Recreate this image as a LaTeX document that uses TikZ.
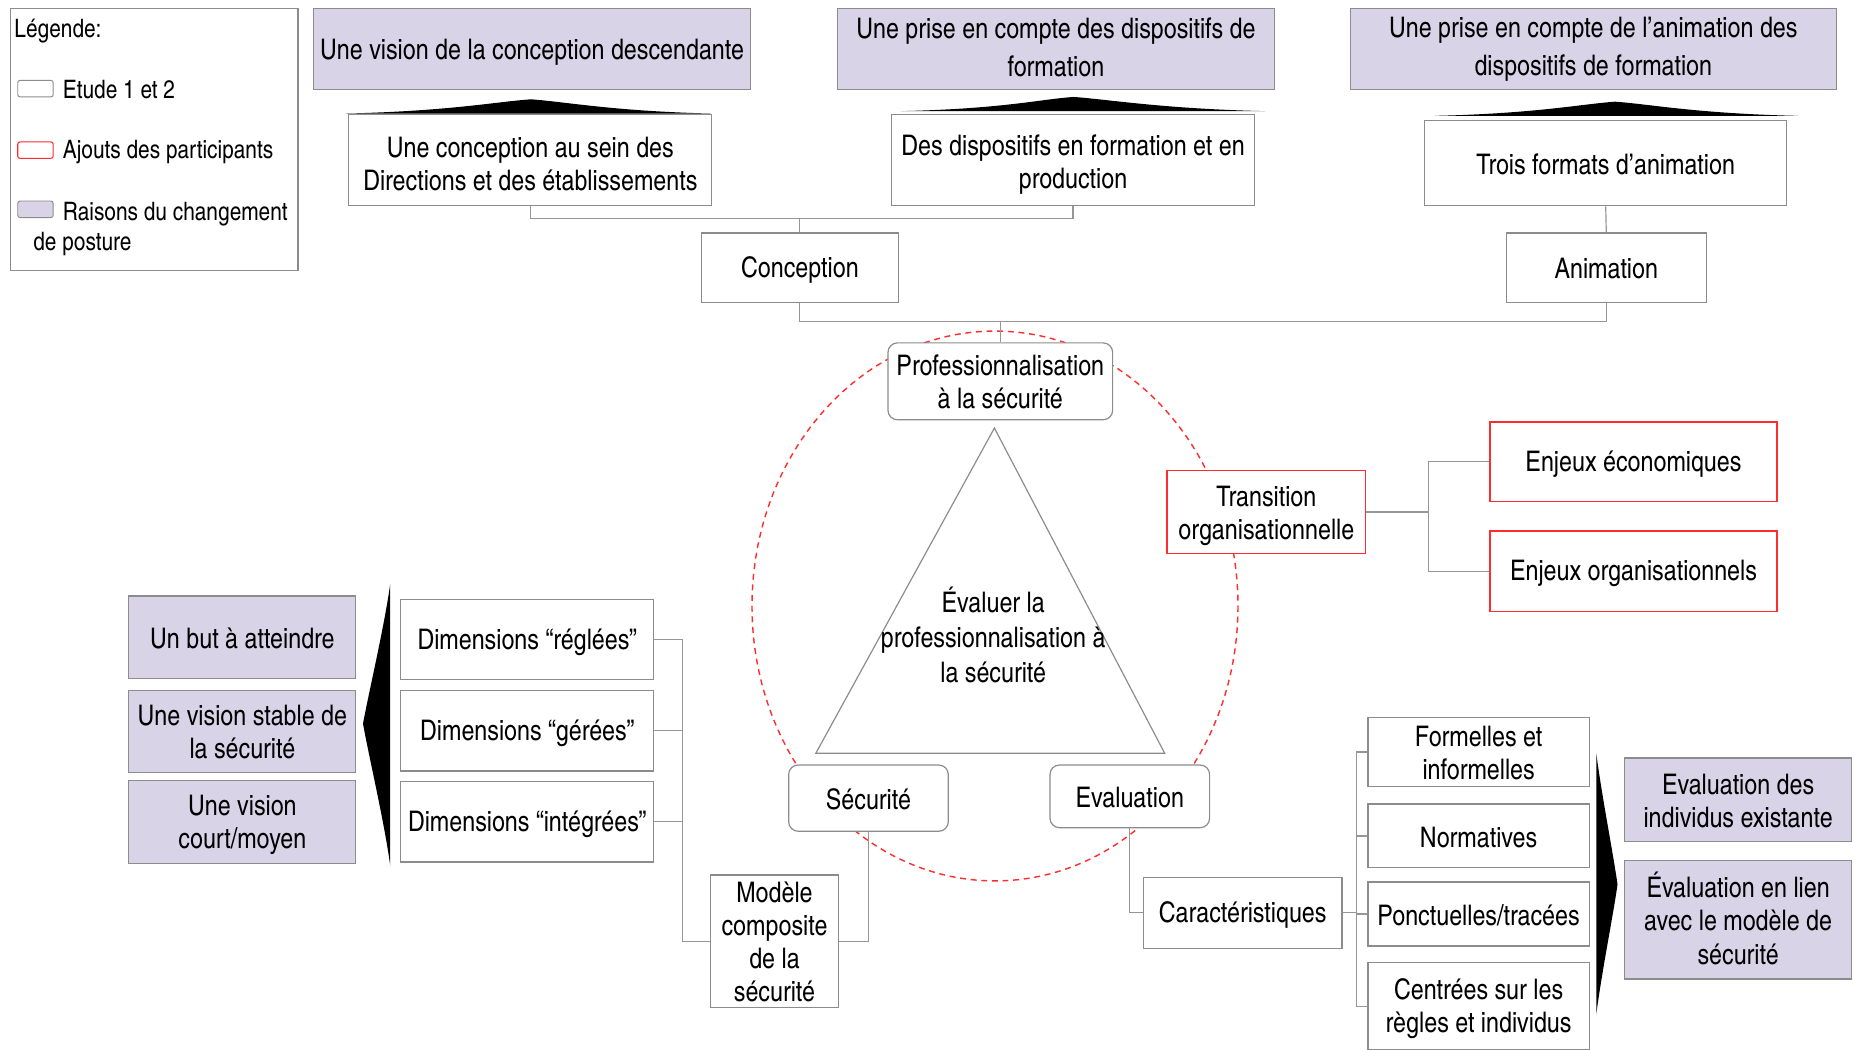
\documentclass[tikz,border=0pt]{standalone}
\usepackage{fontspec}
\setmainfont{texgyreheroscn}[Extension=.otf, UprightFont=*-regular, BoldFont=*-bold, ItalicFont=*-italic, BoldItalicFont=*-bolditalic]
\definecolor{bordergray}{RGB}{140,140,140}
\definecolor{conngray}{RGB}{150,150,150}
\definecolor{lav}{RGB}{217,211,232}
\definecolor{redline}{RGB}{255,45,45}
\newcommand\mainfs{\fontsize{24}{28}\selectfont}
\newcommand\widefs{\fontsize{24}{32}\selectfont}
\newcommand\trifs{\fontsize{24}{30}\selectfont}
\newcommand\legfs{\fontsize{21.5}{25}\selectfont}
\newcommand\hs{\rule{0pt}{22pt}}
\newcommand\ds{\rule[-3.3pt]{0pt}{3.3pt}}
\tikzset{
  box/.style={draw=bordergray, line width=1pt, fill=white, inner sep=0pt},
  purp/.style={box, fill=lav},
  redbox/.style={box, draw=redline, line width=1.2pt},
  rbox/.style={box, rounded corners=8pt},
  sz/.style 2 args={minimum width=#1pt, minimum height=#2pt},
  txt/.style={align=center, font=\mainfs, text=black, inner sep=0pt},
  labs/.style 2 args={label={[txt, yshift=#1pt]center:{\hs#2\ds}}},
  lab/.style={labs={0}{#1}},
  labw/.style={label={[txt, font=\widefs, yshift=2pt]center:{\hs#1\ds}}},
  conn/.style={draw=conngray, line width=1pt},
  wedge/.style={fill=black, draw=none},
  legtext/.style={anchor=west, inner sep=0pt, font=\legfs, text=black},
}
\begin{document}
\begin{tikzpicture}[x=1pt, y=-1pt]
\useasboundingbox (0,0) rectangle (1568,888);
\fill[white] (0,0) rectangle (1568,888);

% legend
\node[draw=bordergray, line width=1pt, sz={243}{222}, inner sep=0pt] (legend) at (130.5,118) {};
\node[legtext] (legtitle) at (12,26.5) {Légende:};
\node[draw=bordergray, line width=0.8pt, rounded corners=2pt, sz={30}{14}, inner sep=0pt, fill=white] (lg1) at (30,75) {};
\node[legtext] (lg1t) at (53,76) {Etude 1 et 2};
\node[draw=redline, line width=0.9pt, rounded corners=2pt, sz={30}{14}, inner sep=0pt, fill=white] (lg2) at (30,127) {};
\node[legtext] (lg2t) at (53,129) {Ajouts des participants};
\node[draw=bordergray, line width=0.8pt, rounded corners=2pt, sz={30}{14}, inner sep=0pt, fill=lav] (lg3) at (30,177) {};
\node[legtext] (lg3t) at (53,181.5) {Raisons du changement};
\node[legtext] (lg3u) at (28,206.5) {de posture};

% dashed ellipse
\draw[redline, line width=1.2pt, dash pattern=on 5pt off 4pt] (841.5,512.5) ellipse [x radius=205.5, y radius=232.5];

% top purple
\node[purp, sz={370}{69}, lab={Une vision de la conception descendante}] (p1) at (450,41.5) {};
\node[purp, sz={370}{69}, labw={Une prise en compte des dispositifs de\\formation}] (p2) at (893,41.5) {};
\node[purp, sz={411}{69}, labw={Une prise en compte de l’animation des\\dispositifs de formation}] (p3) at (1347.5,41.5) {};

% wedges top
\fill[wedge] (293,96) .. controls (380,94) and (420,86) .. (449,84) .. controls (478,86) and (518,94) .. (601,96) -- cycle;
\fill[wedge] (762,94) .. controls (849,92) and (879,84) .. (908,82) .. controls (937,84) and (983,92) .. (1070,94) -- cycle;
\fill[wedge] (1213,98) .. controls (1300,96) and (1337,88) .. (1366,86) .. controls (1395,88) and (1434,96) .. (1521,98) -- cycle;

% white top boxes
\node[box, sz={307}{77}, labs={-2}{Une conception au sein des\\Directions et des établissements}] (w1) at (448.5,135.5) {};
\node[box, sz={307}{77}, labs={-1.5}{Des dispositifs en formation et en\\production}] (w2) at (907.5,135.5) {};
\node[box, sz={306}{72}, lab={Trois formats d’animation}] (w3) at (1358,138) {};
\node[box, sz={167}{59}, lab={Conception}] (conc) at (676.5,226.5) {};
\node[box, sz={169}{59}, lab={Animation}] (anim) at (1358.5,226.5) {};

% centre
\node[rbox, sz={190}{65}, lab={Professionnalisation\\à la sécurité}] (prof) at (846,322.5) {};
\draw[draw=bordergray, line width=1pt, fill=white] (841,362) -- (985,637) -- (690,637) -- cycle;
\node[align=center, font=\trifs, inner sep=0pt] (tri) at (840,537) {Évaluer la\\professionnalisation à\\la sécurité};
\node[rbox, sz={135}{56}, lab={Sécurité}] (secu) at (734.5,675) {};
\node[rbox, sz={135}{53}, lab={Evaluation}] (eval) at (955.5,673.5) {};

% transition
\node[redbox, sz={168}{70}, labs={-1}{Transition\\organisationnelle}] (trans) at (1071,433) {};
\node[redbox, sz={243}{67}, lab={Enjeux économiques}] (enj1) at (1381.5,390.5) {};
\node[redbox, sz={243}{68}, lab={Enjeux organisationnels}] (enj2) at (1381.5,483) {};

% left side
\node[purp, sz={192}{70}, lab={Un but à atteindre}] (but) at (205,539) {};
\node[purp, sz={192}{69}, lab={Une vision stable de\\la sécurité}] (stab) at (205,618.5) {};
\node[purp, sz={192}{70}, lab={Une vision\\court/moyen}] (court) at (205,695) {};
\fill[wedge] (330,494) .. controls (325,530) and (312,585) .. (307,612) .. controls (312,640) and (325,695) .. (330,732) -- cycle;
\node[box, sz={214}{68}, lab={Dimensions “réglées”}] (dim1) at (446,541) {};
\node[box, sz={214}{68}, lab={Dimensions “gérées”}] (dim2) at (446,618) {};
\node[box, sz={214}{68}, lab={Dimensions “intégrées”}] (dim3) at (446,695) {};
\node[box, sz={108}{112}, lab={Modèle\\composite\\de la\\sécurité}] (mod) at (655,796) {};

% right bottom
\node[box, sz={168}{60}, lab={Caractéristiques}] (car) at (1051,772) {};
\node[box, sz={187}{58}, lab={Formelles et\\informelles}] (f1) at (1250.5,636) {};
\node[box, sz={187}{54}, lab={Normatives}] (f2) at (1250.5,707) {};
\node[box, sz={187}{54}, lab={Ponctuelles/tracées}] (f3) at (1250.5,773) {};
\node[box, sz={187}{74}, lab={Centrées sur les\\règles et individus}] (f4) at (1250.5,851) {};
\fill[wedge] (1350,637) .. controls (1355,675) and (1364,720) .. (1368,748) .. controls (1364,776) and (1355,820) .. (1350,858) -- cycle;
\node[purp, sz={192}{71}, lab={Evaluation des\\individus existante}] (ev1) at (1470,676.5) {};
\node[purp, sz={192}{100}, lab={Évaluation en lien\\avec le modèle de\\sécurité}] (ev2) at (1470,778) {};

% connectors
\coordinate (j1) at (676.5,185);
\draw[conn] (w1.south) |- (j1) -| (w2.south);
\draw[conn] (conc.north) -- (j1);
\draw[conn] (w3.south) -- (anim.north);
\coordinate (j2) at (846,272);
\draw[conn] (conc.south) |- (j2) -| (anim.south);
\draw[conn] (j2) -- (prof.north);
\coordinate (j3) at (1208,433);
\draw[conn] (trans.east) -- (j3);
\draw[conn] (enj1.west) -| (j3) |- (enj2.west);
\coordinate (j4) at (577,796);
\draw[conn] (dim1.east) -| (j4) -- (mod.west);
\draw[conn] (dim2.east) -- (dim2.east -| j4);
\draw[conn] (dim3.east) -- (dim3.east -| j4);
\draw[conn] (secu.south) |- (mod.east);
\draw[conn] (eval.south) |- (car.west);
\coordinate (j5) at (1147,772);
\draw[conn] (car.east) -- (j5);
\draw[conn] (f1.west) -| (j5) |- (f4.west);
\draw[conn] (f2.west) -- (f2.west -| j5);
\draw[conn] (f3.west) -- (f3.west -| j5);
\end{tikzpicture}
\end{document}
